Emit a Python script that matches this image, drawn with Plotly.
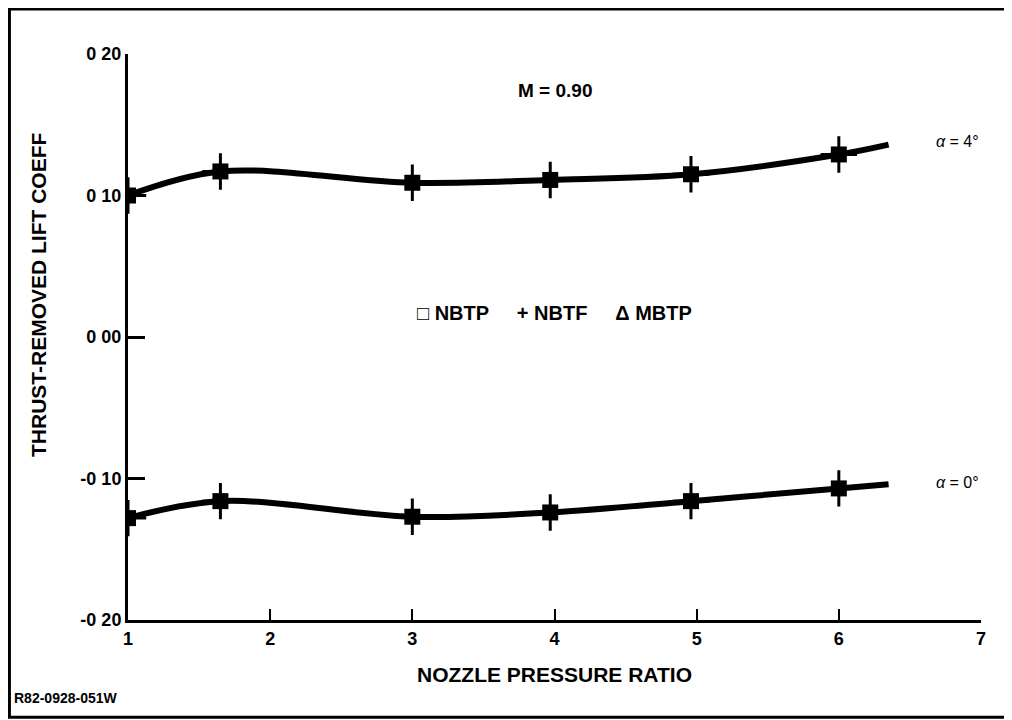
import plotly.graph_objects as go

# Data
npr_pts = [1.0, 1.65, 3.0, 3.97, 4.96, 6.0]
cl_a4 = [0.100, 0.117, 0.109, 0.111, 0.115, 0.129]
cl_a0 = [-0.128, -0.116, -0.127, -0.124, -0.116, -0.107]
npr_curve_end = 6.35
cl_a4_end = 0.136
cl_a0_end = -0.104

x_ticks = [1, 2, 3, 4, 5, 6, 7]
y_ticks = [0.20, 0.10, 0.00, -0.10, -0.20]
y_ticktext = ["<b>0 20</b>", "<b>0 10</b>", "<b>0 00</b>", "<b>-0 10</b>", "<b>-0 20</b>"]
x_ticktext = ["<b>%d</b>" % v for v in x_ticks]

FONT = "Liberation Sans"
fig = go.Figure()

for ys, yend in [(cl_a4, cl_a4_end), (cl_a0, cl_a0_end)]:
    fig.add_trace(go.Scatter(
        x=npr_pts + [npr_curve_end], y=ys + [yend], mode="lines",
        line=dict(color="black", width=6, shape="spline", smoothing=1.0),
        showlegend=False, hoverinfo="skip"))
    fig.add_trace(go.Scatter(
        x=npr_pts, y=ys, mode="markers",
        marker=dict(symbol="square", size=16, color="black"),
        showlegend=False))
    fig.add_trace(go.Scatter(
        x=npr_pts, y=ys, mode="markers",
        marker=dict(symbol="cross-thin", size=26, color="black",
                    line=dict(color="black", width=3)),
        showlegend=False))

fig.update_xaxes(range=[1, 7], tickvals=x_ticks, ticktext=x_ticktext,
                 ticks="inside", ticklen=11,
                 tickwidth=2, tickcolor="black", showline=True, linecolor="black",
                 linewidth=3, showgrid=False, zeroline=False, automargin=False,
                 tickfont=dict(family=FONT, size=18, color="black"),
                 title=dict(text="<b>NOZZLE PRESSURE RATIO</b>",
                            font=dict(family=FONT, size=21, color="black"),
                            standoff=20))
fig.update_yaxes(range=[-0.2, 0.2], tickvals=y_ticks, ticktext=y_ticktext,
                 ticks="inside", ticklen=17, tickwidth=3, tickcolor="black",
                 showline=True, linecolor="black", linewidth=3, showgrid=False,
                 zeroline=False, automargin=False,
                 tickfont=dict(family=FONT, size=18, color="black"))

# y-axis title as annotation for exact placement
fig.add_annotation(x=-0.105, y=0.03, xref="paper", yref="y",
                   text="<b>THRUST-REMOVED LIFT COEFF</b>", textangle=-90,
                   showarrow=False, xanchor="center", yanchor="middle",
                   font=dict(family=FONT, size=21, color="black"))

ann_font = dict(family=FONT, size=19, color="black")
fig.add_annotation(x=0.5, y=0.174, xref="paper", yref="y",
                   text="<b>M = 0.90</b>", showarrow=False,
                   xanchor="center", yanchor="middle", font=ann_font)
fig.add_annotation(x=0.5, y=0.017, xref="paper", yref="y",
                   text="<b>\u25a1 NBTP&nbsp;&nbsp;&nbsp;&nbsp; + NBTF&nbsp;&nbsp;&nbsp;&nbsp; \u0394 MBTP</b>",
                   showarrow=False, xanchor="center", yanchor="middle",
                   font=dict(family=FONT, size=20, color="black"))
fig.add_annotation(x=npr_curve_end + 0.32, y=cl_a4_end + 0.002, xref="x", yref="y",
                   text="<i>\u03b1</i> = 4\u00b0", showarrow=False,
                   xanchor="left", yanchor="middle",
                   font=dict(family=FONT, size=16, color="black"))
fig.add_annotation(x=npr_curve_end + 0.32, y=cl_a0_end + 0.001, xref="x", yref="y",
                   text="<i>\u03b1</i> = 0\u00b0", showarrow=False,
                   xanchor="left", yanchor="middle",
                   font=dict(family=FONT, size=16, color="black"))
fig.add_annotation(x=-0.136, y=-0.138, xref="paper", yref="paper",
                   text="<b>R82-0928-051W</b>", showarrow=False,
                   xanchor="left", yanchor="middle",
                   font=dict(family=FONT, size=14, color="black"))

# outer frame
fig.add_shape(type="rect", xref="paper", yref="paper",
              x0=-0.139, x1=1.033, y0=-0.172, y1=1.0795,
              line=dict(color="black", width=3))

fig.update_layout(width=1012, height=720, plot_bgcolor="white",
                  paper_bgcolor="white",
                  margin=dict(l=120, r=39, t=46, b=108), showlegend=False)

fig.write_html("out.html")
